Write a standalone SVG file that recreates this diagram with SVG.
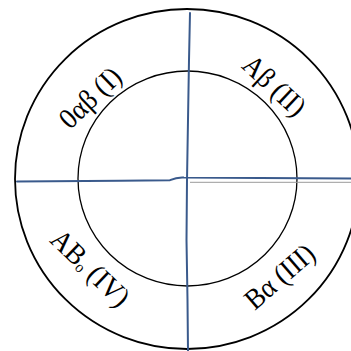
<svg xmlns="http://www.w3.org/2000/svg" width="351" height="351" viewBox="0 0 351 351">
<style>
.ring{fill:none;stroke:#000;}
.lbl{font-family:"Liberation Serif","Times New Roman",serif;font-size:29px;fill:#000;text-anchor:middle;}
.axis{fill:none;stroke:#3a5a8c;stroke-width:2;stroke-linecap:round;stroke-linejoin:round;}
.shadow{fill:none;stroke:#9a9a9a;stroke-width:1;}
</style>
<rect width="351" height="351" fill="#fff"/>
<g id="outer-circle"><ellipse class="ring" cx="187" cy="179" rx="172" ry="170" stroke-width="1.8"/></g>
<g id="inner-circle"><ellipse class="ring" cx="187.5" cy="178.5" rx="109.5" ry="107.5" stroke-width="1.3"/></g>
<g id="connectors">
<line class="shadow" x1="190" y1="182.3" x2="351" y2="182.3"/>
<path class="axis" d="M17,181.5 L120,180.8 L170,180.2 Q177,177 184,177.5 L260,178 L351,178.5"/>
<path class="axis" d="M190,13 L189,60 L188,120 L187,180 L186.5,240 L187.5,300 L188,351"/>
</g>
<g id="label-I"><text class="lbl" transform="translate(90.5,98) rotate(-44) scale(0.92,1)" y="9">0αβ (I)</text></g>
<g id="label-II"><text class="lbl" transform="translate(274,86) rotate(43) scale(0.92,1)" y="9">Aβ (II)</text></g>
<g id="label-III"><text class="lbl" transform="translate(280,277) rotate(-41) scale(0.92,1)" y="9">Bα (III)</text></g>
<g id="label-IV"><text class="lbl" transform="translate(90,268.5) rotate(44) scale(0.92,1)" y="9">AB<tspan font-size="16" dy="2">o</tspan><tspan dy="-2"> (IV)</tspan></text></g>
</svg>
